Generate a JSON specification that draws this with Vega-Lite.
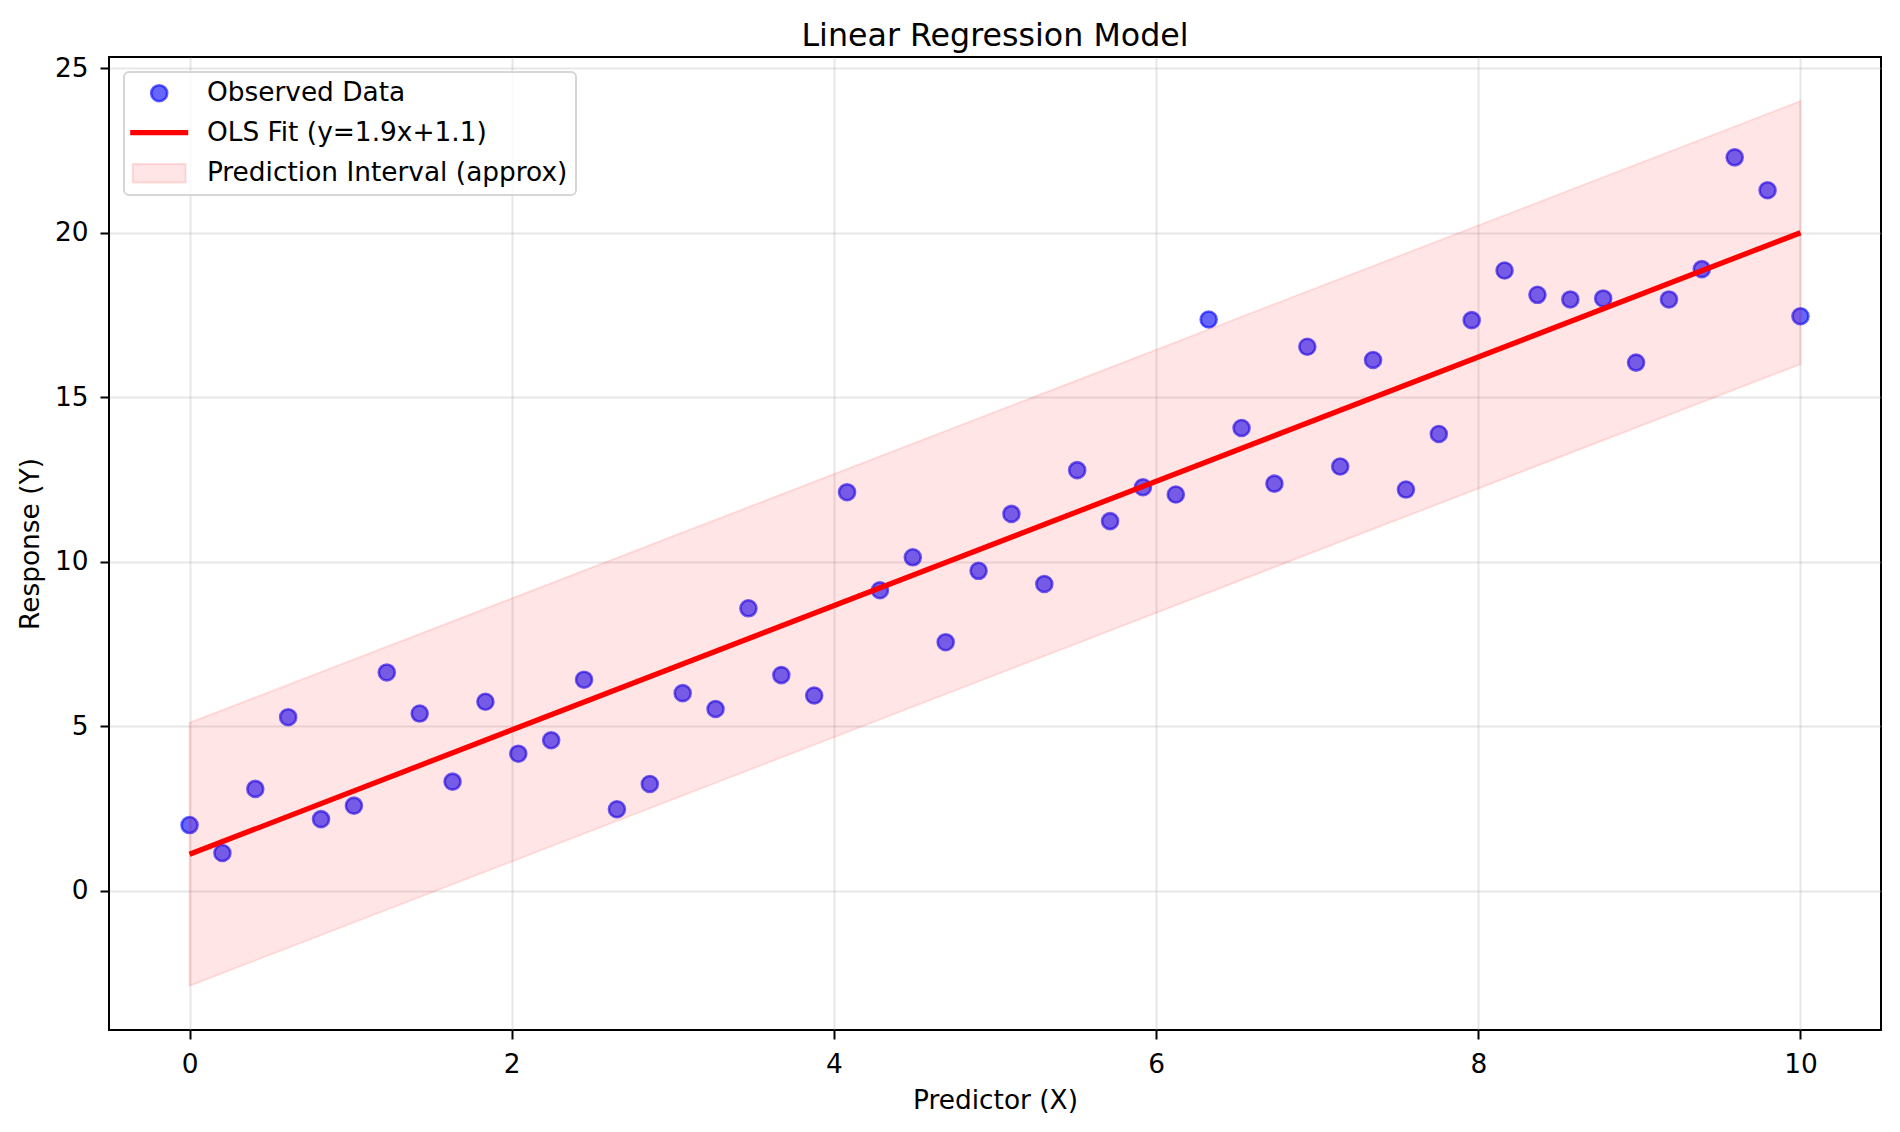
{
  "$schema": "https://vega.github.io/schema/vega-lite/v6.json",
  "width": 1772,
  "height": 973,
  "autosize": {"type": "none"},
  "padding": {"left": 109, "top": 57, "right": 19, "bottom": 102},
  "background": "white",
  "title": {"text": "Linear Regression Model", "fontSize": 31.7, "font": "DejaVu Sans", "fontWeight": "normal", "color": "black", "baseline": "bottom", "offset": 9, "dy": 39, "anchor": "middle", "frame": "group"},
  "encoding": {
    "x": {"field": "x", "type": "quantitative", "scale": {"domain": [-0.5, 10.5], "nice": false, "zero": false},
          "axis": {"title": "Predictor (X)", "values": [0, 2, 4, 6, 8, 10], "format": "d"}},
    "color": {"field": "series", "type": "nominal",
      "scale": {"domain": ["Observed Data", "OLS Fit (y=1.9x+1.1)", "Prediction Interval (approx)"], "range": ["blue", "red", "red"]},
      "legend": {
        "orient": "top-left", "offset": 15, "title": null, "padding": 8,
        "symbolSize": 3364, "labelOffset": 34.5, "rowPadding": 12.5, "symbolOffset": 14,
        "fillColor": "rgba(255,255,255,0.8)", "strokeColor": "#d6d6d6", "cornerRadius": 5,
        "labelFontSize": 26.4, "labelFont": "DejaVu Sans", "labelColor": "black", "labelLimit": 0,
        "encode": {"symbols": {"update": {
          "shape": {"signal": "datum.value == 'Observed Data' ? 'circle' : datum.value == 'OLS Fit (y=1.9x+1.1)' ? 'stroke' : 'M-0.91,-0.32H0.91V0.32H-0.91Z'"},
          "size": {"signal": "datum.value == 'Observed Data' ? 256 : 3364"},
          "fill": {"signal": "datum.value == 'Observed Data' ? 'blue' : datum.value == 'OLS Fit (y=1.9x+1.1)' ? 'transparent' : 'red'"},
          "fillOpacity": {"signal": "datum.value == 'Observed Data' ? 0.6 : 0.1"},
          "stroke": {"signal": "datum.value == 'Observed Data' ? 'blue' : 'red'"},
          "strokeOpacity": {"signal": "datum.value == 'Observed Data' ? 0.6 : datum.value == 'OLS Fit (y=1.9x+1.1)' ? 1 : 0.12"},
          "strokeWidth": {"signal": "datum.value == 'Observed Data' ? 2.6 : datum.value == 'OLS Fit (y=1.9x+1.1)' ? 5.3 : 2"},
          "opacity": {"value": 1}
        }}}
      }
    }
  },
  "layer": [
    {
      "data": {"values": [
        {"x": 0.0, "y": 1.99, "series": "Observed Data"},
        {"x": 0.2041, "y": 1.14, "series": "Observed Data"},
        {"x": 0.4082, "y": 3.09, "series": "Observed Data"},
        {"x": 0.6122, "y": 5.27, "series": "Observed Data"},
        {"x": 0.8163, "y": 2.17, "series": "Observed Data"},
        {"x": 1.0204, "y": 2.58, "series": "Observed Data"},
        {"x": 1.2245, "y": 6.63, "series": "Observed Data"},
        {"x": 1.4286, "y": 5.38, "series": "Observed Data"},
        {"x": 1.6327, "y": 3.31, "series": "Observed Data"},
        {"x": 1.8367, "y": 5.74, "series": "Observed Data"},
        {"x": 2.0408, "y": 4.16, "series": "Observed Data"},
        {"x": 2.2449, "y": 4.57, "series": "Observed Data"},
        {"x": 2.449, "y": 6.41, "series": "Observed Data"},
        {"x": 2.6531, "y": 2.47, "series": "Observed Data"},
        {"x": 2.8571, "y": 3.24, "series": "Observed Data"},
        {"x": 3.0612, "y": 6.0, "series": "Observed Data"},
        {"x": 3.2653, "y": 5.52, "series": "Observed Data"},
        {"x": 3.4694, "y": 8.58, "series": "Observed Data"},
        {"x": 3.6735, "y": 6.55, "series": "Observed Data"},
        {"x": 3.8776, "y": 5.93, "series": "Observed Data"},
        {"x": 4.0816, "y": 12.11, "series": "Observed Data"},
        {"x": 4.2857, "y": 9.13, "series": "Observed Data"},
        {"x": 4.4898, "y": 10.13, "series": "Observed Data"},
        {"x": 4.6939, "y": 7.55, "series": "Observed Data"},
        {"x": 4.898, "y": 9.72, "series": "Observed Data"},
        {"x": 5.102, "y": 11.45, "series": "Observed Data"},
        {"x": 5.3061, "y": 9.32, "series": "Observed Data"},
        {"x": 5.5102, "y": 12.78, "series": "Observed Data"},
        {"x": 5.7143, "y": 11.23, "series": "Observed Data"},
        {"x": 5.9184, "y": 12.26, "series": "Observed Data"},
        {"x": 6.1224, "y": 12.04, "series": "Observed Data"},
        {"x": 6.3265, "y": 17.36, "series": "Observed Data"},
        {"x": 6.5306, "y": 14.06, "series": "Observed Data"},
        {"x": 6.7347, "y": 12.37, "series": "Observed Data"},
        {"x": 6.9388, "y": 16.53, "series": "Observed Data"},
        {"x": 7.1429, "y": 12.89, "series": "Observed Data"},
        {"x": 7.3469, "y": 16.13, "series": "Observed Data"},
        {"x": 7.551, "y": 12.19, "series": "Observed Data"},
        {"x": 7.7551, "y": 13.88, "series": "Observed Data"},
        {"x": 7.9592, "y": 17.34, "series": "Observed Data"},
        {"x": 8.1633, "y": 18.85, "series": "Observed Data"},
        {"x": 8.3673, "y": 18.11, "series": "Observed Data"},
        {"x": 8.5714, "y": 17.97, "series": "Observed Data"},
        {"x": 8.7755, "y": 18.0, "series": "Observed Data"},
        {"x": 8.9796, "y": 16.05, "series": "Observed Data"},
        {"x": 9.1837, "y": 17.97, "series": "Observed Data"},
        {"x": 9.3878, "y": 18.89, "series": "Observed Data"},
        {"x": 9.5918, "y": 22.29, "series": "Observed Data"},
        {"x": 9.7959, "y": 21.29, "series": "Observed Data"},
        {"x": 10.0, "y": 17.46, "series": "Observed Data"}
      ]},
      "mark": {"type": "point", "filled": true, "size": 256, "opacity": 1, "fillOpacity": 0.6, "stroke": "blue", "strokeOpacity": 0.6, "strokeWidth": 2.6},
      "encoding": {
        "y": {"field": "y", "type": "quantitative", "scale": {"domain": [-4.24, 25.34], "nice": false, "zero": false},
              "axis": {"title": "Response (Y)", "values": [0, 5, 10, 15, 20, 25], "format": "d"}}
      }
    },
    {
      "data": {"values": [
        {"x": 0, "fit": 1.1, "series": "OLS Fit (y=1.9x+1.1)"},
        {"x": 10, "fit": 20.0, "series": "OLS Fit (y=1.9x+1.1)"}
      ]},
      "mark": {"type": "line", "strokeWidth": 5.3},
      "encoding": {"y": {"field": "fit", "type": "quantitative"}}
    },
    {
      "data": {"values": [
        {"x": 0, "lo": -2.9, "hi": 5.1, "series": "Prediction Interval (approx)"},
        {"x": 10, "lo": 16.0, "hi": 24.0, "series": "Prediction Interval (approx)"}
      ]},
      "mark": {"type": "area", "fillOpacity": 0.1, "stroke": "red", "strokeOpacity": 0.1, "strokeWidth": 2},
      "encoding": {"y": {"field": "lo", "type": "quantitative"}, "y2": {"field": "hi"}}
    }
  ],
  "config": {
    "view": {"stroke": "black", "strokeWidth": 2},
    "legend": {"strokeWidth": 2},
    "axis": {
      "domain": false, "grid": true, "gridColor": "#b0b0b0", "gridOpacity": 0.3, "gridWidth": 2,
      "ticks": true, "tickColor": "black", "tickWidth": 2, "tickSize": 9,
      "labelFont": "DejaVu Sans", "labelFontSize": 26.4, "labelColor": "black", "labelPadding": 12,
      "labelFlush": false, "labelOverlap": false,
      "titleFont": "DejaVu Sans", "titleFontSize": 26.4, "titleFontWeight": "normal", "titleColor": "black", "titlePadding": 10
    }
  }
}
